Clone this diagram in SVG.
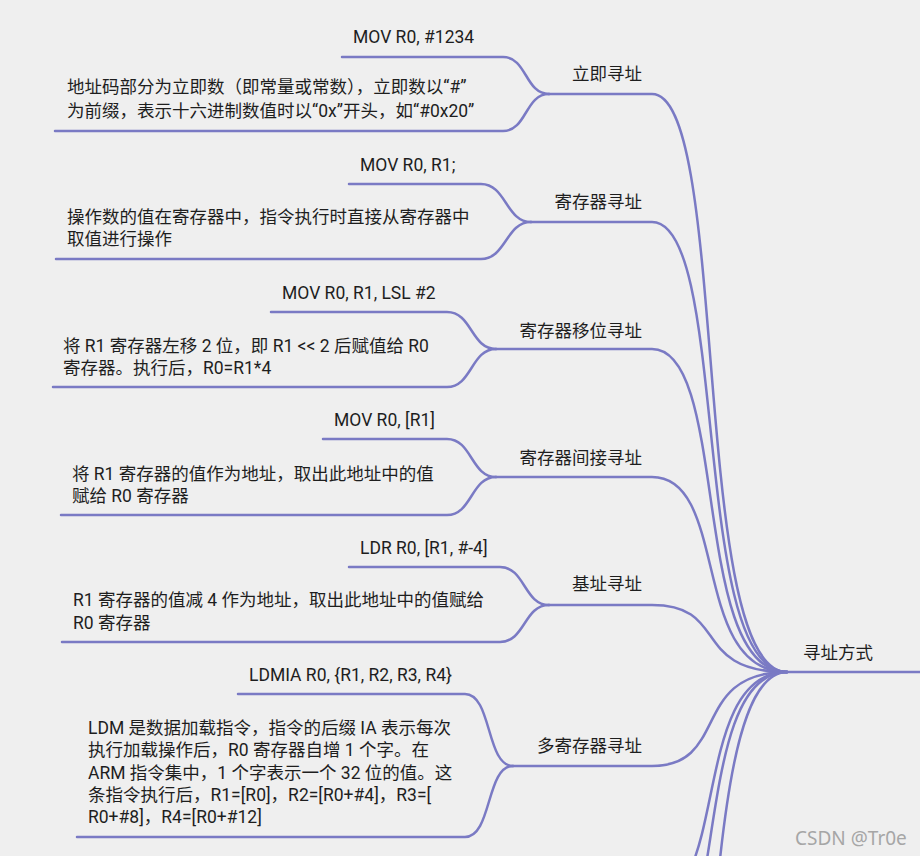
<svg xmlns="http://www.w3.org/2000/svg" width="920" height="856" viewBox="0 0 920 856">
<style>
.bg{fill:#efefef}
.ln{fill:none;stroke:#7a7ac4;stroke-width:2.5;stroke-linecap:round}
text{font-family:Roboto,"Noto Sans CJK SC",sans-serif;font-size:17.5px;fill:#1e1e1e}
.l1{text-anchor:end}
.wm{font-family:"Noto Sans","DejaVu Sans",sans-serif;font-size:19px;fill:#a6a6a6}
</style>
<rect class="bg" x="0" y="0" width="920" height="856"/>
<g id="connectors">
<path class="ln" d="M787 672 H920"/>
<path class="ln" d="M549 94 H652 C730 94 690 672 787 672"/>
<path class="ln" d="M531 222 H652 C730 222 690 672 787 672"/>
<path class="ln" d="M496 349 H652 C730 349 690 672 787 672"/>
<path class="ln" d="M496 477 H652 C730 477 690 672 787 672"/>
<path class="ln" d="M549 605 H652 C730 605 690 672 787 672"/>
<path class="ln" d="M513 766 H652 C730 766 690 672 787 672"/>
<path class="ln" d="M652 900 C730 900 690 672 787 672"/>
<path class="ln" d="M652 977 C730 977 690 672 787 672"/>
<path class="ln" d="M652 1202 C730 1202 690 672 787 672"/>
<path class="ln" d="M342 57 H503 C527 57 525 94 549 94"/>
<path class="ln" d="M55 131 H503 C527 131 525 94 549 94"/>
<path class="ln" d="M349 184 H481 C506 184 506 222 531 222"/>
<path class="ln" d="M56 259 H481 C506 259 506 222 531 222"/>
<path class="ln" d="M271 312 H447 C472 312 471 349 496 349"/>
<path class="ln" d="M53 387 H447 C472 387 471 349 496 349"/>
<path class="ln" d="M323 439 H447 C472 439 471 477 496 477"/>
<path class="ln" d="M61 515 H447 C472 515 471 477 496 477"/>
<path class="ln" d="M349 567 H500 C525 567 524 605 549 605"/>
<path class="ln" d="M62 642 H500 C525 642 524 605 549 605"/>
<path class="ln" d="M238 694 H465 C492 694 486 766 513 766"/>
<path class="ln" d="M77 837 H465 C492 837 486 766 513 766"/>
</g>
<g id="root"><text x="803" y="659">寻址方式</text></g>
<g id="n1"><text class="l1" x="642" y="80">立即寻址</text></g>
<g id="n1a"><text x="353" y="43">MOV R0, #1234</text></g>
<g id="n1b"><text x="67" y="93">地址码部分为立即数（即常量或常数），立即数以“#”</text><text x="67" y="117">为前缀，表示十六进制数值时以“0x”开头，如“#0x20”</text></g>
<g id="n2"><text class="l1" x="642" y="208">寄存器寻址</text></g>
<g id="n2a"><text x="360" y="171">MOV R0, R1;</text></g>
<g id="n2b"><text x="67" y="223">操作数的值在寄存器中，指令执行时直接从寄存器中</text><text x="67" y="245">取值进行操作</text></g>
<g id="n3"><text class="l1" x="642" y="337">寄存器移位寻址</text></g>
<g id="n3a"><text x="282" y="299">MOV R0, R1, LSL #2</text></g>
<g id="n3b"><text x="63" y="352">将 R1 寄存器左移 2 位，即 R1 &lt;&lt; 2 后赋值给 R0</text><text x="63" y="374">寄存器。执行后，R0=R1*4</text></g>
<g id="n4"><text class="l1" x="642" y="464">寄存器间接寻址</text></g>
<g id="n4a"><text x="334" y="426">MOV R0, [R1]</text></g>
<g id="n4b"><text x="72" y="480">将 R1 寄存器的值作为地址，取出此地址中的值</text><text x="72" y="502">赋给 R0 寄存器</text></g>
<g id="n5"><text class="l1" x="642" y="590">基址寻址</text></g>
<g id="n5a"><text x="360" y="554">LDR R0, [R1, #-4]</text></g>
<g id="n5b"><text x="73" y="606">R1 寄存器的值减 4 作为地址，取出此地址中的值赋给</text><text x="73" y="629">R0 寄存器</text></g>
<g id="n6"><text class="l1" x="642" y="752">多寄存器寻址</text></g>
<g id="n6a"><text x="249" y="681">LDMIA R0, {R1, R2, R3, R4}</text></g>
<g id="n6b"><text x="88" y="734">LDM 是数据加载指令，指令的后缀 IA 表示每次</text><text x="88" y="756">执行加载操作后，R0 寄存器自增 1 个字。在</text><text x="88" y="779">ARM 指令集中，1 个字表示一个 32 位的值。这</text><text x="88" y="801">条指令执行后，R1=[R0]，R2=[R0+#4]，R3=[</text><text x="88" y="823">R0+#8]，R4=[R0+#12]</text></g>
<text class="wm" x="795" y="845">CSDN @Tr0e</text>
</svg>
